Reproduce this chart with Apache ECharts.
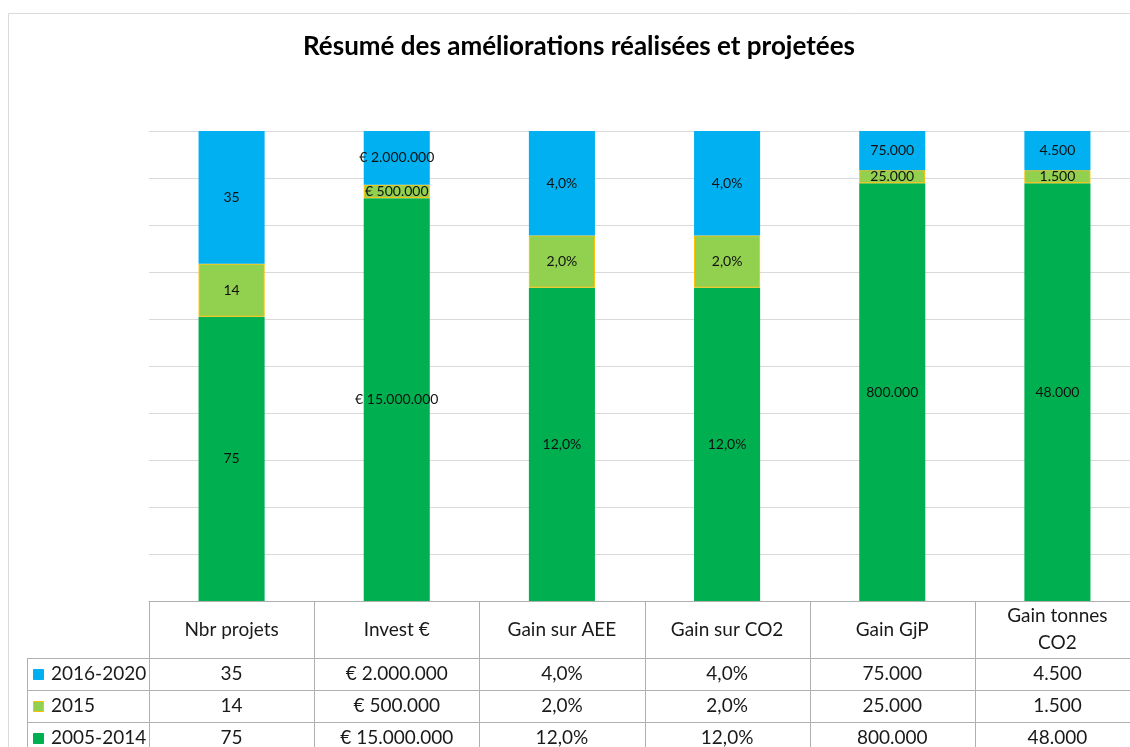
<html lang="fr">
<head>
<meta charset="UTF-8" />
<title>Résumé des améliorations</title>
<script src="https://cdn.jsdelivr.net/npm/echarts@6/dist/echarts.min.js"></script>
<style>
  * { padding: 0; margin: 0; }
  body { background: #fff; }
</style>
</head>
<body>
<div id="main" style="width:1130px;height:747px"></div>
<script>
// donnees
var categories = ["Nbr projets", "Invest €", "Gain sur AEE", "Gain sur CO2", "Gain GjP", "Gain tonnes\nCO2"]
var seriesNames = ["2005-2014", "2015", "2016-2020"]
var v2005 = [75, 15000000, 12, 12, 800000, 48000]
var v2015 = [14, 500000, 2, 2, 25000, 1500]
var v2016 = [35, 2000000, 4, 4, 75000, 4500]
var formats = ["n", "eur", "pct", "pct", "n", "n"]
var colors = ["#00B050", "#92D050", "#00B0F0"]

var FONT = "Lato"
var gridLeft = 149, gridTop = 131, gridBottom = 146, gridRight = -10

function fmt(v, f) {
  if (f == "pct") return v.toFixed(1).replace(".", ",") + "%"
  var s = String(Math.round(v)).replace(/\B(?=(\d{3})+(?!\d))/g, ".")
  if (f == "eur") return "€ " + s
  return s
}

var raw = [v2005, v2015, v2016]
var totals = categories.map(function (c, i) {
  return v2005[i] + v2015[i] + v2016[i]
})

var series = seriesNames.map(function (name, s) {
  return {
    name: name,
    type: "bar",
    stack: "all",
    barWidth: "40%",
    itemStyle: {
      color: colors[s],
      borderColor: s == 1 ? "#FFC000" : colors[s],
      borderWidth: s == 1 ? 1 : 0
    },
    label: {
      show: true,
      position: "inside",
      color: "#111",
      fontFamily: FONT,
      fontSize: 14,
      formatter: function (p) {
        return fmt(raw[s][p.dataIndex], formats[p.dataIndex])
      }
    },
    data: raw[s].map(function (v, i) {
      return (v / totals[i]) * 100
    })
  }
})

var myChart = echarts.init(document.getElementById("main"))
myChart.setOption({
  backgroundColor: "#fff",
  animation: false,
  title: {
    text: "Résumé des améliorations réalisées et projetées",
    left: 574,
    top: 29,
    textAlign: "center",
    textStyle: { fontFamily: FONT, fontSize: 26, fontWeight: "bold", color: "#000" }
  },
  grid: { left: gridLeft, right: gridRight, top: gridTop, bottom: gridBottom, outerBoundsMode: "none" },
  xAxis: {
    type: "category",
    data: categories,
    axisLabel: { show: false },
    axisTick: { show: false },
    axisLine: { show: true, lineStyle: { color: "#b0b0b0" } }
  },
  yAxis: {
    type: "value",
    min: 0,
    max: 100,
    interval: 10,
    axisLabel: { show: false },
    axisLine: { show: false },
    splitLine: { lineStyle: { color: "#d9d9d9" } }
  },
  series: series
})

// tableau de donnees sous le graphique
var g = []
var lineCol = "#b0b0b0"
var xAxisY = myChart.convertToPixel({ yAxisIndex: 0 }, 0)
var half = (myChart.convertToPixel({ xAxisIndex: 0 }, 1) - myChart.convertToPixel({ xAxisIndex: 0 }, 0)) / 2
var headerH = 57, rowH = 32, legLeft = 27
var rowOrder = [2, 1, 0]
var tFont = "19px " + FONT

// contour du graphique
g.push({ type: "rect", shape: { x: 8.5, y: 13.5, width: 1140, height: 760 }, style: { fill: null, stroke: "#d9d9d9", lineWidth: 1 }, silent: true })

for (var k = 0; k <= categories.length; k++) {
  var x = Math.round(gridLeft + k * half * 2) + 0.5
  g.push({ type: "line", shape: { x1: x, y1: xAxisY, x2: x, y2: 760 }, style: { stroke: lineCol, lineWidth: 1 } })
}
g.push({ type: "line", shape: { x1: legLeft + 0.5, y1: xAxisY + headerH, x2: legLeft + 0.5, y2: 760 }, style: { stroke: lineCol, lineWidth: 1 } })
for (var r = 0; r < 3; r++) {
  var y = Math.round(xAxisY + headerH + r * rowH) + 0.5
  g.push({ type: "line", shape: { x1: legLeft, y1: y, x2: 1140, y2: y }, style: { stroke: lineCol, lineWidth: 1 } })
}

categories.forEach(function (c, i) {
  var cx = myChart.convertToPixel({ xAxisIndex: 0 }, i)
  g.push({
    type: "text",
    x: cx,
    y: xAxisY + headerH / 2,
    style: { text: c, fill: "#1a1a1a", font: tFont, align: "center", verticalAlign: "middle", lineHeight: 27 }
  })
  rowOrder.forEach(function (s, r) {
    g.push({
      type: "text",
      x: cx,
      y: xAxisY + headerH + r * rowH + rowH / 2,
      style: { text: fmt(raw[s][i], formats[i]), fill: "#1a1a1a", font: tFont, align: "center", verticalAlign: "middle" }
    })
  })
})

rowOrder.forEach(function (s, r) {
  var cy = xAxisY + headerH + r * rowH + rowH / 2
  g.push({
    type: "rect",
    shape: { x: 33.5, y: Math.round(cy - 5) + 0.5, width: 10, height: 10 },
    style: { fill: colors[s], stroke: s == 1 ? "#FFC000" : colors[s], lineWidth: 1 }
  })
  g.push({
    type: "text",
    x: 51,
    y: cy,
    style: { text: seriesNames[s], fill: "#1a1a1a", font: tFont, align: "left", verticalAlign: "middle" }
  })
})

myChart.setOption({ graphic: g })
</script>
</body>
</html>
